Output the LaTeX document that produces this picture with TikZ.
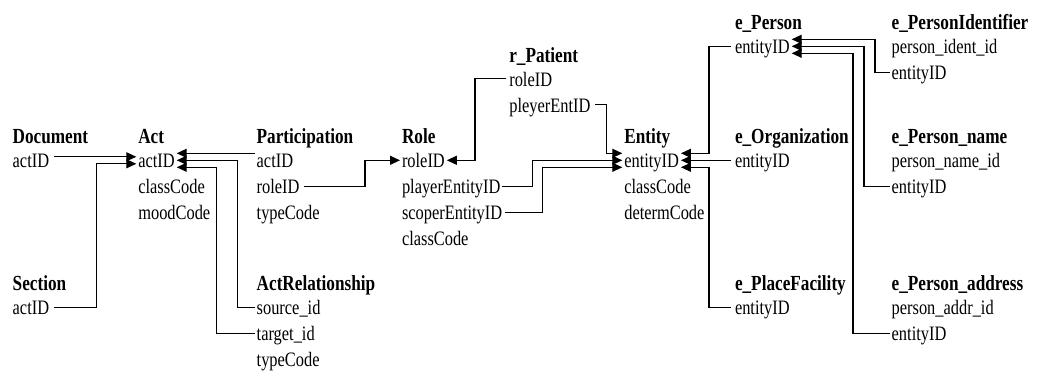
\documentclass[tikz,border=0pt]{standalone}
\usepackage{fontspec}
\setmainfont{Liberation Serif}
\usepackage{graphicx}
\usetikzlibrary{arrows.meta}
% table fields are set slightly tall
\newcommand{\tx}[1]{\scalebox{1}[1.25]{#1}}
\tikzset{
  fld/.style={anchor=base west, inner sep=0pt, outer sep=0pt, font=\fontsize{16.4}{20}\selectfont},
  hdr/.style={fld, font=\fontsize{17.2}{20}\selectfont\bfseries},
  link/.style={line width=1.2pt, draw=black},
  ref/.style={link, -{Triangle[length=10pt,width=9pt]}},
}
\begin{document}
\begin{tikzpicture}[x=1pt,y=-1pt]
\useasboundingbox (0,0) rectangle (1038,379);

% ---- tables ----
\node[hdr] (doc)     at (12.7,143.8) {\tx{Document}};
\node[fld] (doc-act) at (12.7,167.8) {\tx{actID}};
\node[hdr] (sec)     at (12.7,290.8) {\tx{Section}};
\node[fld] (sec-act) at (12.7,314.8) {\tx{actID}};

\node[hdr] (act)      at (138.3,143.8) {\tx{Act}};
\node[fld] (act-id)   at (138.3,167.8) {\tx{actID}};
\node[fld] (act-cls)  at (138.3,193.8) {\tx{classCode}};
\node[fld] (act-mood) at (138.3,219.8) {\tx{moodCode}};

\node[hdr] (par)      at (256.7,143.8) {\tx{Participation}};
\node[fld] (par-act)  at (256.7,167.8) {\tx{actID}};
\node[fld] (par-role) at (256.7,193.8) {\tx{roleID}};
\node[fld] (par-type) at (256.7,219.8) {\tx{typeCode}};

\node[hdr] (rel)      at (256.7,290.8) {\tx{ActRelationship}};
\node[fld] (rel-src)  at (256.7,314.8) {\tx{source\_id}};
\node[fld] (rel-tgt)  at (256.7,340.8) {\tx{target\_id}};
\node[fld] (rel-type) at (256.7,366.8) {\tx{typeCode}};

\node[hdr] (role)      at (402,143.8) {\tx{Role}};
\node[fld] (role-id)   at (402,167.8) {\tx{roleID}};
\node[fld] (role-play) at (402,193.8) {\tx{playerEntityID}};
\node[fld] (role-scop) at (402,219.8) {\tx{scoperEntityID}};
\node[fld] (role-cls)  at (402,245.8) {\tx{classCode}};

\node[hdr] (pat)      at (509.3,62.3)  {\tx{r\_Patient}};
\node[fld] (pat-role) at (509.3,86.3)  {\tx{roleID}};
\node[fld] (pat-pley) at (509.3,112.3) {\tx{pleyerEntID}};

\node[hdr] (ent)     at (624.3,143.8) {\tx{Entity}};
\node[fld] (ent-id)  at (624.3,167.8) {\tx{entityID}};
\node[fld] (ent-cls) at (624.3,193.8) {\tx{classCode}};
\node[fld] (ent-det) at (624.3,219.8) {\tx{determCode}};

\node[hdr] (ep)     at (735,29.8)  {\tx{e\_Person}};
\node[fld] (ep-id)  at (735,53.8)  {\tx{entityID}};
\node[hdr] (eo)     at (735,143.8) {\tx{e\_Organization}};
\node[fld] (eo-id)  at (735,167.8) {\tx{entityID}};
\node[hdr] (epf)    at (735,290.8) {\tx{e\_PlaceFacility}};
\node[fld] (epf-id) at (735,314.8) {\tx{entityID}};

\node[hdr] (pid)     at (891.7,29.8)  {\tx{e\_PersonIdentifier}};
\node[fld] (pid-key) at (891.7,53.8)  {\tx{person\_ident\_id}};
\node[fld] (pid-ent) at (891.7,79.8)  {\tx{entityID}};
\node[hdr] (pnm)     at (891.7,143.8) {\tx{e\_Person\_name}};
\node[fld] (pnm-key) at (891.7,167.8) {\tx{person\_name\_id}};
\node[fld] (pnm-ent) at (891.7,193.8) {\tx{entityID}};
\node[hdr] (pad)     at (891.7,290.8) {\tx{e\_Person\_address}};
\node[fld] (pad-key) at (891.7,314.8) {\tx{person\_addr\_id}};
\node[fld] (pad-ent) at (891.7,340.8) {\tx{entityID}};

% ---- bend columns ----
\coordinate (bSec)  at (96.7,0);
\coordinate (bTgt)  at (216.7,0);
\coordinate (bSrc)  at (237.3,0);
\coordinate (bPR)   at (365,0);
\coordinate (bPat)  at (475,0);
\coordinate (bPlay) at (532.7,0);
\coordinate (bScop) at (542.7,0);
\coordinate (bPley) at (606.7,0);
\coordinate (bEP)   at (709,0);
\coordinate (bEPF)  at (709,0);
\coordinate (bAd)   at (853,0);
\coordinate (bNm)   at (864,0);
\coordinate (bId)   at (875,0);

% ---- foreign keys into Act ----
\draw[ref] ([xshift=5pt,yshift=11pt]doc-act.base east) -- ([xshift=-2pt,yshift=11pt]act-id.base west);
\coordinate (p2) at ([xshift=5pt,yshift=7.5pt]sec-act.base east);
\draw[ref] (p2) -- (p2 -| bSec) |- ([xshift=-2pt,yshift=4pt]act-id.base west);
\draw[ref] ([xshift=-2pt,yshift=14.5pt]par-act.base west) -- ([xshift=2pt,yshift=14.5pt]act-id.base east);
\coordinate (p4) at ([xshift=-2pt,yshift=7.5pt]rel-src.base west);
\draw[ref] (p4) -- (p4 -| bSrc) |- ([xshift=2pt,yshift=7.5pt]act-id.base east);
\coordinate (p5) at ([xshift=-2pt,yshift=7.5pt]rel-tgt.base west);
\draw[ref] (p5) -- (p5 -| bTgt) |- ([xshift=2pt,yshift=0.5pt]act-id.base east);

% ---- foreign keys into Role ----
\coordinate (p6) at ([xshift=4pt,yshift=7.5pt]par-role.base east);
\draw[ref] (p6) -- (p6 -| bPR) |- ([xshift=-2pt,yshift=7.5pt]role-id.base west);
\coordinate (p7) at ([xshift=-3pt,yshift=7.5pt]pat-role.base west);
\draw[ref] (p7) -- (p7 -| bPat) |- ([xshift=2pt,yshift=7.5pt]role-id.base east);

% ---- foreign keys into Entity ----
\coordinate (p8) at ([xshift=5pt,yshift=7.5pt]pat-pley.base east);
\draw[ref] (p8) -- (p8 -| bPley) |- ([xshift=-2pt,yshift=14.5pt]ent-id.base west);
\coordinate (p9) at ([xshift=2pt,yshift=7.5pt]role-play.base east);
\draw[ref] (p9) -- (p9 -| bPlay) |- ([xshift=-2pt,yshift=7.5pt]ent-id.base west);
\coordinate (p10) at ([xshift=3pt,yshift=7.5pt]role-scop.base east);
\draw[ref] (p10) -- (p10 -| bScop) |- ([xshift=-2pt,yshift=0.5pt]ent-id.base west);
\coordinate (p11) at ([xshift=-4pt,yshift=7.5pt]ep-id.base west);
\draw[ref] (p11) -- (p11 -| bEP) |- ([xshift=2pt,yshift=14.5pt]ent-id.base east);
\draw[ref] ([xshift=-4pt,yshift=7.5pt]eo-id.base west) -- ([xshift=2pt,yshift=7.5pt]ent-id.base east);
\coordinate (p13) at ([xshift=-4pt,yshift=7.5pt]epf-id.base west);
\draw[ref] (p13) -- (p13 -| bEPF) |- ([xshift=2pt,yshift=0.5pt]ent-id.base east);

% ---- foreign keys into e_Person ----
\coordinate (p14) at ([xshift=-2pt,yshift=7.5pt]pid-ent.base west);
\draw[ref] (p14) -- (p14 -| bId) |- ([xshift=2pt,yshift=14.5pt]ep-id.base east);
\coordinate (p15) at ([xshift=-2pt,yshift=7.5pt]pnm-ent.base west);
\draw[ref] (p15) -- (p15 -| bNm) |- ([xshift=2pt,yshift=7.5pt]ep-id.base east);
\coordinate (p16) at ([xshift=-2pt,yshift=7.5pt]pad-ent.base west);
\draw[ref] (p16) -- (p16 -| bAd) |- ([xshift=2pt,yshift=0.5pt]ep-id.base east);
\end{tikzpicture}
\end{document}
